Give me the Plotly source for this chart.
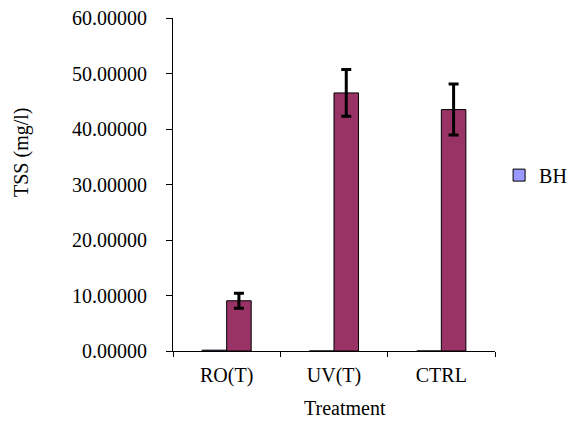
import plotly.graph_objects as go

categories = ["RO(T)", "UV(T)", "CTRL"]
bh_values = [0.15, 0, 0]
treated_values = [9.05, 46.5, 43.5]
treated_errors = [1.35, 4.2, 4.6]
y_tick_vals = [0, 10, 20, 30, 40, 50, 60]

FONT = "Liberation Serif"
FS = 20

fig = go.Figure()
fig.add_trace(go.Bar(
    x=categories, y=bh_values, name="BH",
    marker=dict(color="#9999FF", line=dict(color="black", width=1)),
))
fig.add_trace(go.Bar(
    x=categories, y=treated_values, name="Treated", showlegend=False,
    marker=dict(color="#993366", line=dict(color="black", width=1)),
    error_y=dict(type="data", array=treated_errors, color="black", thickness=3, width=5),
))

fig.update_layout(
    width=573, height=423,
    margin=dict(l=173, r=78, t=18, b=72, autoexpand=False),
    paper_bgcolor="white", plot_bgcolor="white",
    barmode="group", bargap=0.543, bargroupgap=0,
    font=dict(family=FONT, size=FS, color="black"),
    showlegend=True,
    legend=dict(xref="container", yref="container", x=0.871, y=0.586,
                xanchor="left", yanchor="middle",
                font=dict(family=FONT, size=FS, color="black"),
                bgcolor="rgba(0,0,0,0)", itemwidth=30),
    xaxis=dict(showline=True, linecolor="black", linewidth=1, ticks="outside",
               ticklen=5, tickcolor="black", tickson="boundaries",
               showgrid=False, zeroline=False, ticklabelstandoff=6,
               tickfont=dict(family=FONT, size=FS, color="black")),
    yaxis=dict(range=[0, 60], tickvals=y_tick_vals, tickformat=".5f",
               showline=True, linecolor="black", linewidth=1, ticks="outside",
               ticklen=6, tickcolor="black", showgrid=False, zeroline=False,
               ticklabelstandoff=15,
               tickfont=dict(family=FONT, size=FS, color="black")),
    annotations=[
        dict(text="TSS (mg/l)", textangle=-90, xref="paper", yref="paper",
             x=-0.469, y=0.5976, xanchor="center", yanchor="middle",
             showarrow=False, font=dict(family=FONT, size=FS, color="black")),
        dict(text="Treatment", xref="paper", yref="paper",
             x=0.534, y=-0.171, xanchor="center", yanchor="middle",
             showarrow=False, font=dict(family=FONT, size=FS, color="black")),
    ],
)

fig.write_html("out.html", config={"displayModeBar": False},
               post_script="document.body.style.margin='0';")
